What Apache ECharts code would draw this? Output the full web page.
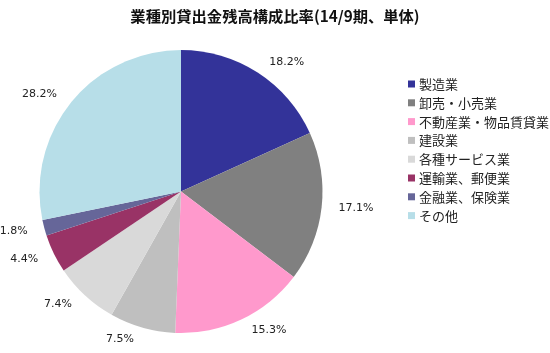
<!DOCTYPE html>
<html>
<head>
<meta charset="utf-8">
<script src="https://cdn.jsdelivr.net/npm/echarts@6/dist/echarts.min.js"></script>
<style>
  html, body { margin: 0; padding: 0; background: #fff; }
  #main { width: 550px; height: 353px; }
</style>
</head>
<body>
<div id="main"></div>
<script>
    // 業種カテゴリ
    var categories = ['製造業', '卸売・小売業', '不動産業・物品賃貸業', '建設業', '各種サービス業', '運輸業、郵便業', '金融業、保険業', 'その他'];
    // 構成比率(%)
    var ratios = [18.2, 17.1, 15.3, 7.5, 7.4, 4.4, 1.8, 28.2];
    var colors = ['#333399', '#808080', '#FF99CC', '#BFBFBF', '#D9D9D9', '#993366', '#666699', '#B7DEE8'];

    var chart = echarts.init(document.getElementById('main'), null, { renderer: 'canvas' });

    var option = {
        animation: false,
        title: {
            text: '業種別貸出金残高構成比率(14/9期、単体)',
            left: 'center',
            top: 4,
            textStyle: {
                fontFamily: 'Noto Sans CJK JP',
                fontSize: 15.3,
                fontWeight: 'bold',
                color: '#111'
            }
        },
        legend: {
            orient: 'vertical',
            left: 403,
            top: 72,
            icon: 'rect',
            itemWidth: 7,
            itemHeight: 7,
            itemGap: 4.8,
            textStyle: {
                fontFamily: 'Noto Sans CJK JP',
                fontSize: 13,
                lineHeight: 14,
                color: '#222',
                padding: [0, 0, 0, -1]
            },
            data: categories
        },
        series: [{
            type: 'pie',
            center: [181, 191.5],
            radius: 141.5,
            startAngle: 90,
            clockwise: true,
            avoidLabelOverlap: false,
            label: {
                show: true,
                position: 'outside',
                formatter: function (p) { return p.value.toFixed(1) + '%'; },
                fontFamily: 'DejaVu Sans',
                fontSize: 11,
                color: '#222'
            },
            labelLine: { show: false, length: 12, length2: 0 },
            itemStyle: { borderWidth: 0 },
            emphasis: { disabled: true },
            data: categories.map(function (c, i) {
                return { name: c, value: ratios[i], itemStyle: { color: colors[i] } };
            })
        }]
    };

    chart.setOption(option);
</script>
</body>
</html>
